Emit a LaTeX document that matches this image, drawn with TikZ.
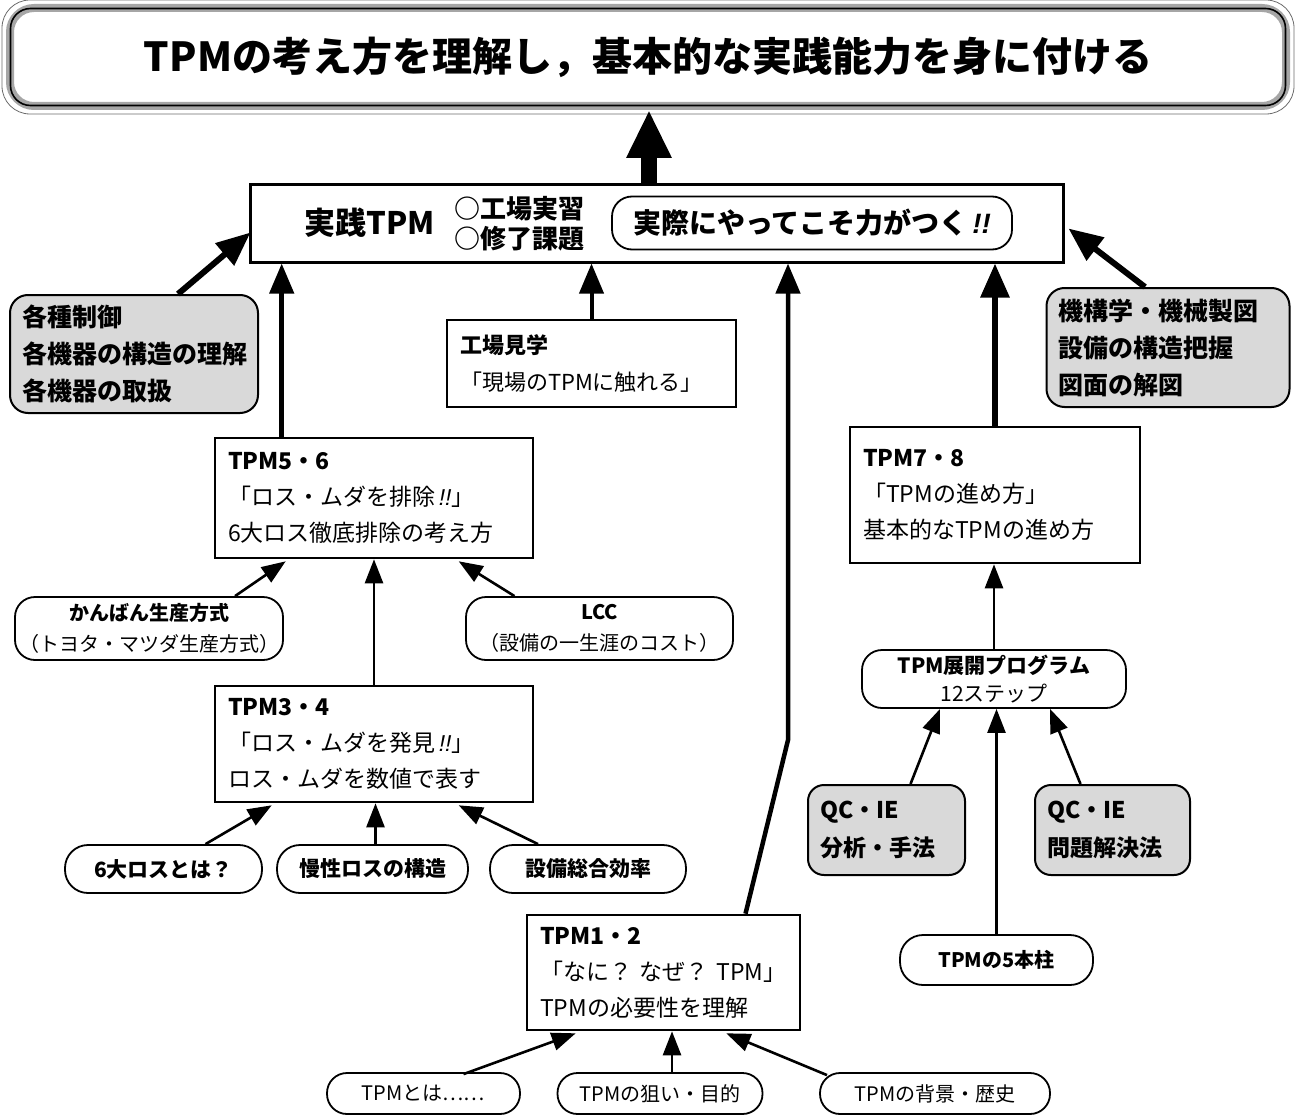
\documentclass[tikz,border=0pt]{standalone}
\usepackage{fontspec}
\setmainfont{Noto Sans CJK JP}
\newfontfamily\exfont{Liberation Sans}
\usetikzlibrary{arrows.meta,calc}
\newcommand{\bang}{{\exfont\itshape !!}}
\newcommand{\fs}[2]{\fontsize{#1}{#2}\selectfont}
\tikzset{
  box/.style={draw, line width=2.6pt, inner xsep=13pt, inner ysep=0pt, align=left},
  pill/.style={draw, line width=1.8pt, rounded corners=20pt, align=center, inner sep=0pt},
  graybox/.style={draw, line width=2pt, rounded corners=18pt, fill=gray!30, align=left, inner xsep=12pt, inner ysep=0pt},
  thinarr/.style={line width=2.6pt, -{Triangle[width=18pt,length=24pt]}},
  medarr/.style={line width=4.5pt, -{Triangle[width=24pt,length=30pt]}},
  bigarr/.style={line width=6pt, -{Triangle[width=28pt,length=34pt]}},
}
\begin{document}
\begin{tikzpicture}[x=1pt,y=-1pt]
\useasboundingbox (0,0) rectangle (1297,1115);

% title
\node[draw=gray!70, line width=8pt, rounded corners=24pt, minimum width=1276pt, minimum height=98pt,
      font=\fs{40}{48}\bfseries] (title) at (648,57) {TPMの考え方を理解し，基本的な実践能力を身に付ける};
\draw[line width=1.6pt, rounded corners=20pt] ($(title.north west)+(4.5,4.5)$) rectangle ($(title.south east)+(-4.5,-4.5)$);
\draw[line width=0.8pt, draw=gray!85!black, rounded corners=28pt] ($(title.north west)+(-4,-4)$) rectangle ($(title.south east)+(4,4)$);

% practice box
\node[draw, line width=3pt, minimum width=813pt, minimum height=77pt] (prac) at (656.5,223.5) {};
\node[font=\fs{31}{36}\bfseries] (pracT) at (370,223) {実践TPM};
\node[font=\fs{26}{30}\bfseries, align=left] (pracL) at (519,224) {○工場実習\\○修了課題};
\node[pill, line width=1.8pt, minimum width=400pt, minimum height=53pt, font=\fs{28}{32}\bfseries] (pracR) at (812,223) {実際にやってこそ力がつく\,\bang};

% gray boxes
\node[graybox, minimum width=248pt, minimum height=118pt, text width=224pt, font=\fs{25}{37}\bfseries] (leftG) at (134,354)
  {各種制御\\各機器の構造の理解\\各機器の取扱};
\node[graybox, minimum width=243pt, minimum height=119pt, text width=219pt, font=\fs{25}{37}\bfseries] (rightG) at (1168,347.5)
  {機構学・機械製図\\設備の構造把握\\図面の解図};

% kengaku
\node[box, minimum width=289pt, minimum height=87pt, text width=263pt, font=\fs{22}{37}] (kengaku) at (591.5,363.5)
  {{\bfseries 工場見学}\\「現場のTPMに触れる」};

% TPM5-6
\node[box, minimum width=318pt, minimum height=120pt, text width=292pt, font=\fs{23}{36}] (tpm56) at (374,498)
  {{\bfseries TPM5・6}\\「ロス・ムダを排除\,\bang」\\6大ロス徹底排除の考え方};

\node[pill, minimum width=268pt, minimum height=63pt, font=\fs{20}{31}] (kanban) at (149,628.5)
  {{\bfseries かんばん生産方式}\\（トヨタ・マツダ生産方式）};
\node[pill, minimum width=267pt, minimum height=63pt, font=\fs{20}{31}] (lcc) at (599.5,628.5)
  {{\bfseries LCC}\\（設備の一生涯のコスト）};

% TPM3-4
\node[box, minimum width=318pt, minimum height=116pt, text width=292pt, font=\fs{23}{36}] (tpm34) at (374,744)
  {{\bfseries TPM3・4}\\「ロス・ムダを発見\,\bang」\\ロス・ムダを数値で表す};

\node[pill, rounded corners=23pt, minimum width=197pt, minimum height=48pt, font=\fs{21}{25}\bfseries] (loss6) at (163.5,869) {6大ロスとは？};
\node[pill, rounded corners=23pt, minimum width=191pt, minimum height=48pt, font=\fs{21}{25}\bfseries] (mansei) at (372.5,869) {慢性ロスの構造};
\node[pill, rounded corners=23pt, minimum width=196pt, minimum height=48pt, font=\fs{21}{25}\bfseries] (oee) at (588,869) {設備総合効率};

% TPM1-2
\node[box, minimum width=273pt, minimum height=115pt, text width=247pt, font=\fs{23}{36}] (tpm12) at (663.5,972.5)
  {{\bfseries TPM1・2}\\「なに？ なぜ？ TPM」\\TPMの必要性を理解};

\node[pill, rounded corners=20pt, minimum width=193pt, minimum height=41pt, font=\fs{20}{24}] (what) at (423.5,1093.5) {TPMとは……};
\node[pill, rounded corners=20pt, minimum width=205pt, minimum height=41pt, font=\fs{20}{24}] (aim) at (660,1093.5) {TPMの狙い・目的};
\node[pill, rounded corners=20pt, minimum width=230pt, minimum height=41pt, font=\fs{20}{24}] (hist) at (935,1093.5) {TPMの背景・歴史};

% TPM7-8
\node[box, minimum width=290pt, minimum height=136pt, text width=264pt, font=\fs{23}{36}] (tpm78) at (995,495)
  {{\bfseries TPM7・8}\\「TPMの進め方」\\基本的なTPMの進め方};

\node[pill, minimum width=264pt, minimum height=58pt, font=\fs{21}{28}] (tenkai) at (994,679)
  {{\bfseries TPM展開プログラム}\\12ステップ};

\node[graybox, rounded corners=16pt, minimum width=157pt, minimum height=90pt, text width=133pt, font=\fs{23}{38}\bfseries] (qc1) at (886.5,830) {QC・IE\\分析・手法};
\node[graybox, rounded corners=16pt, minimum width=155pt, minimum height=90pt, text width=131pt, font=\fs{23}{38}\bfseries] (qc2) at (1112.5,830) {QC・IE\\問題解決法};

\node[pill, rounded corners=23pt, minimum width=193pt, minimum height=50pt, font=\fs{20}{24}\bfseries] (pillar) at (996.5,960) {TPMの5本柱};

% ---- connectors ----
\draw[line width=16pt, -{Triangle[width=42pt,length=48pt]}] (prac.north -| title.south) ++(1,0) coordinate (ta) (ta) -- (ta |- title.south);

\draw[bigarr] ($(leftG.north)+(44,0)$) -- ($(prac.west)+(2,9)$);
\draw[bigarr] ($(rightG.north)+(-23,0)$) -- ($(prac.east)+(4,5)$);

\coordinate (a56) at ($(tpm56.north west)+(68,0)$);
\draw[medarr] (a56) -- (a56 |- prac.south);
\draw[medarr, line width=4pt] (kengaku.north) -- (kengaku.north |- prac.south);
\coordinate (s12) at ($(tpm12.north)+(82,0)$);
\coordinate (bend) at (788,740);
\draw[medarr] (s12) -- (bend) -- (bend |- prac.south);
\draw[bigarr] (tpm78.north) -- (tpm78.north |- prac.south);

\draw[thinarr] ($(kanban.north)+(86,0)$) -- ($(tpm56.south west)+(72,2)$);
\draw[thinarr] ($(lcc.north)+(-85,0)$) -- ($(tpm56.south west)+(245,2)$);
\draw[thinarr] (tpm34.north) -- (tpm34.north |- tpm56.south);

\draw[thinarr] ($(loss6.north)+(42,0)$) -- ($(tpm34.south west)+(58,2)$);
\coordinate (am) at ($(mansei.north)+(3,0)$);
\draw[thinarr] (am) -- (am |- tpm34.south);
\draw[thinarr] ($(oee.north)+(-50,0)$) -- ($(tpm34.south west)+(245,2)$);

\draw[thinarr] ($(what.north)+(40,2)$) -- ($(tpm12.south west)+(50,2)$);
\coordinate (aa) at ($(aim.north)+(12,0)$);
\draw[thinarr] (aa) -- (aa |- tpm12.south);
\draw[thinarr] ($(hist.north)+(-108,3)$) -- ($(tpm12.south east)+(-75,2)$);

\draw[thinarr] (tenkai.north) -- (tenkai.north |- tpm78.south);
\draw[thinarr] ($(qc1.north)+(24,0)$) -- ($(tenkai.south)+(-54,0)$);
\draw[thinarr] (pillar.north) -- (pillar.north |- tenkai.south);
\draw[thinarr] ($(qc2.north)+(-32,0)$) -- ($(tenkai.south)+(56,0)$);
\end{tikzpicture}
\end{document}
